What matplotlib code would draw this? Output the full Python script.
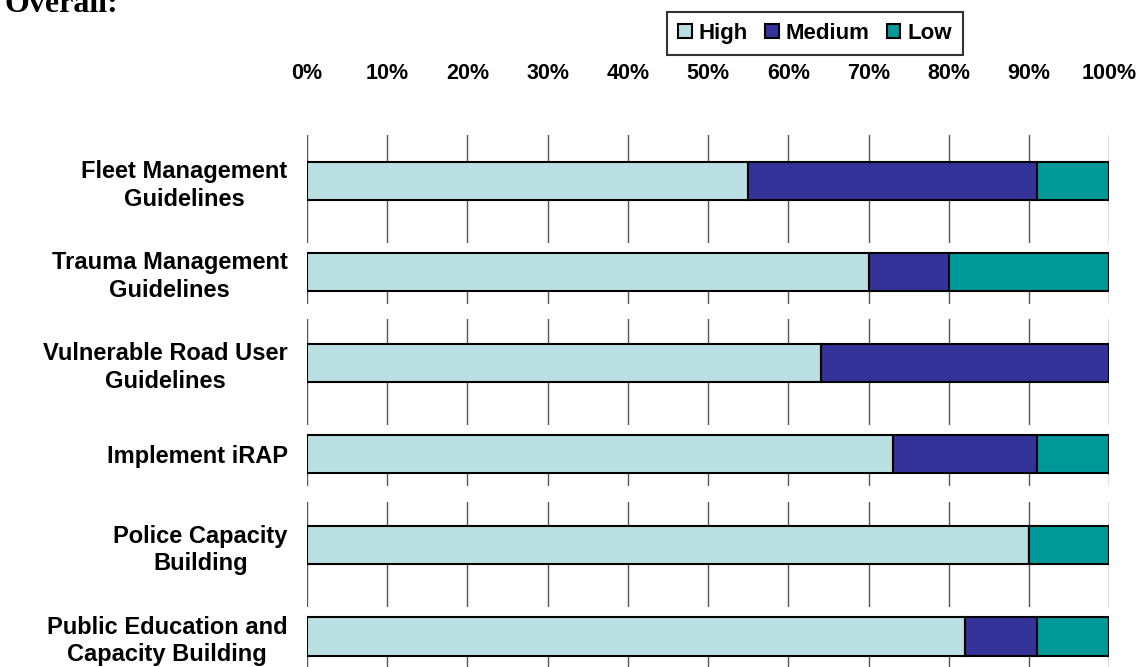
import matplotlib
matplotlib.use('Agg')
import matplotlib.pyplot as plt
from matplotlib.patches import Patch

categories = ['Fleet Management\nGuidelines', 'Trauma Management\nGuidelines',
              'Vulnerable Road User\nGuidelines', 'Implement iRAP',
              'Police Capacity\nBuilding', 'Public Education and\nCapacity Building']
high = [55, 70, 64, 73, 90, 82]
medium = [36, 10, 36, 18, 0, 9]
low = [9, 20, 0, 9, 10, 9]
series_names = ['High', 'Medium', 'Low']
colors = ['#BBE0E3', '#333399', '#009999']

plt.rcParams['font.family'] = ['Liberation Sans', 'DejaVu Sans']

fig = plt.figure(figsize=(11.4, 6.67), dpi=100)
ax = fig.add_axes([0.2693, -0.0225, 0.7039, 0.82])

y = list(range(len(categories)))
left = [0] * len(categories)
for vals, name, c in zip([high, medium, low], series_names, colors):
    ax.barh(y, vals, left=left, height=0.42, color=c, edgecolor='black',
            linewidth=1.5, zorder=3, label=name)
    left = [l + v for l, v in zip(left, vals)]

ax.set_xlim(0, 100)
ax.set_ylim(len(categories) - 0.5, -0.5)
ax.set_xticks(range(0, 101, 10))
ax.set_xticklabels([f'{t}%' for t in range(0, 101, 10)], fontsize=15.5, fontweight='bold')
ax.set_yticks(y)
ax.set_yticklabels(categories, fontsize=17, fontweight='bold', multialignment='center',
                   linespacing=1.25)
ax.xaxis.tick_top()
ax.tick_params(axis='x', length=0, pad=37)
ax.tick_params(axis='y', length=0, pad=14)
for s in ax.spines.values():
    s.set_visible(False)

ax.set_axisbelow(True)
ax.grid(axis='x', color='#555555', linewidth=1.0)
ax.grid(axis='y', visible=False)

# white breaks in the gridlines, as in the source image
for i in range(len(categories) - 1):
    if i % 2 == 0:
        ax.axhspan(i + 0.68, i + 0.79, color='white', zorder=1, linewidth=0)
    else:
        ax.axhspan(i + 0.35, i + 0.52, color='white', zorder=1, linewidth=0)

handles = [Patch(facecolor=c, edgecolor='black', linewidth=1.5) for c in colors]
leg = fig.legend(handles, series_names, loc='center', bbox_to_anchor=(815 / 1140, 1 - 33.5 / 667),
                 ncol=3, frameon=True, fancybox=False, edgecolor='black',
                 prop={'weight': 'bold', 'size': 16},
                 handlelength=0.6, handleheight=0.6, handletextpad=0.3,
                 columnspacing=0.8, borderpad=0.5, borderaxespad=0)
leg.get_frame().set_linewidth(1.5)

fig.text(5 / 1140, 1 - 12 / 667, 'Overall:', family=['Liberation Serif', 'DejaVu Serif'],
         fontsize=23, fontweight='bold', ha='left', va='baseline')

fig.savefig('out.png', dpi=100)
